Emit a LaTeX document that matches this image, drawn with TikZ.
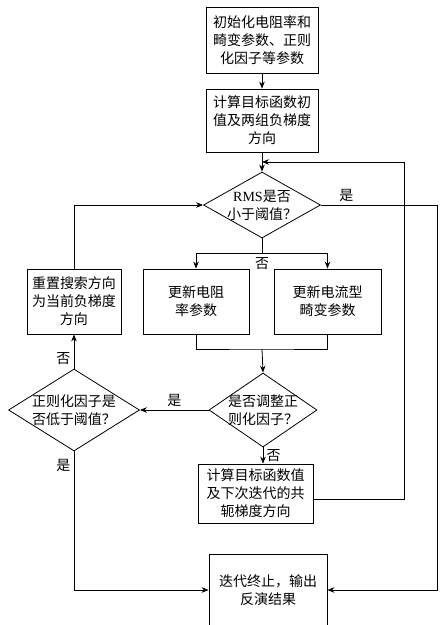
\documentclass[tikz,border=0pt]{standalone}
\usepackage{fontspec}
\setmainfont{Liberation Serif}
\newfontfamily\cjk{Noto Sans CJK SC}
\usetikzlibrary{arrows.meta,shapes.geometric}

\begin{document}
\begin{tikzpicture}[x=1pt,y=-1pt,line width=0.8pt,
        >={Stealth[length=7pt,width=5.5pt]},
        font=\cjk\fontsize{14}{18}\selectfont]
        \useasboundingbox (0,0) rectangle (447,625);

        \begin{scope}[every node/.style={rectangle,draw,align=center,inner sep=2pt}]
            \node[minimum width=112pt,minimum height=66pt] (init) at (262,40) {初始化电阻率和\\畸变参数、正则\\化因子等参数};
            \node[minimum width=112pt,minimum height=63pt] (grad) at (262,120.5) {计算目标函数初\\值及两组负梯度\\方向};
            \node[minimum width=94pt,minimum height=65pt] (resetbox) at (74,301.5) {重置搜索方向\\为当前负梯度\\方向};
            \node[minimum width=106pt,minimum height=65pt] (resbox) at (196,301.5) {更新电阻\\率参数};
            \node[minimum width=107pt,minimum height=65pt] (distbox) at (327.5,301.5) {更新电流型\\畸变参数};
            \node[minimum width=115pt,minimum height=59pt] (objbox) at (255.5,493.5) {计算目标函数值\\及下次迭代的共\\轭梯度方向};
            \node[minimum width=118pt,minimum height=72pt] (endbox) at (268,590) {迭代终止，输出\\反演结果};
        \end{scope}

        \begin{scope}[every node/.style={diamond,draw,align=center,aspect=1.7,inner sep=-6pt}]
            \node[minimum width=117pt,minimum height=66pt] (rms) at (262,205) {{\rmfamily RMS}是否\\小于阈值？};
            \node[minimum width=108pt,minimum height=74pt] (adjust) at (263,410) {是否调整正\\则化因子？};
            \node[minimum width=131pt,minimum height=82pt] (lowreg) at (74,410) {正则化因子是\\否低于阈值？};
        \end{scope}

        \coordinate (split) at (262,253);
        \coordinate (join) at (262,349);
        \coordinate (loopup) at (404,162);
        \coordinate (yesturn) at (437,205);

        \path [->] (init) edge (grad);
        \path [->] (grad) edge (rms);
        \draw (rms.south) -- (split) node[below=1pt]{否};
        \draw [->] (split) -| (resbox.north);
        \draw [->] (split) -| (distbox.north);
        \draw (resbox.south) |- (join) -| (distbox.south);
        \path [->] (join) edge (adjust.north);
        \path [->] (adjust.west) edge node[above]{是} (lowreg.east);
        \path [->] (lowreg.north) edge node[left,pos=0.3]{否} (resetbox.south);
        \draw [->] (resetbox.north) |- (rms.west);
        \path [->] (adjust.south) edge node[right]{否} (adjust.south |- objbox.north);
        \draw [->] ([yshift=-6pt]objbox.east) -| (loopup) -- (grad.south |- loopup);
        \draw [->] (rms.east) -- node[above,pos=0.22]{是} (yesturn) |- (endbox.east);
        \draw [->] (lowreg.south) |- node[left,pos=0.05]{是} (endbox.west);
    \end{tikzpicture}
\end{document}
